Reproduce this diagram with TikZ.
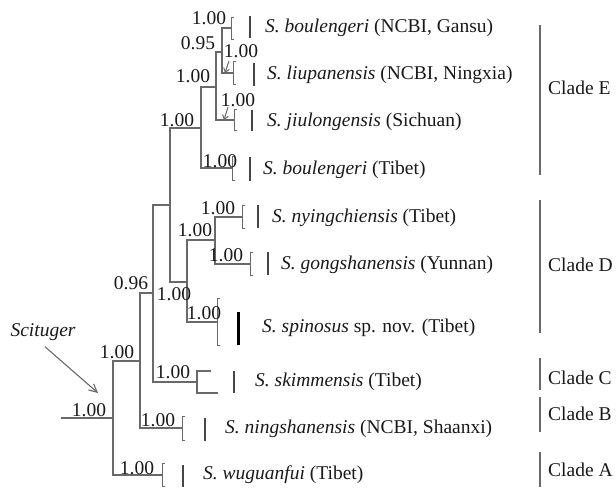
\documentclass[tikz,border=0pt]{standalone}
\usepackage{fontspec}
\setmainfont{Liberation Serif}
\usetikzlibrary{arrows.meta}
\definecolor{treegray}{RGB}{105,105,105}
\definecolor{bargray}{RGB}{70,70,70}
\definecolor{txt}{RGB}{25,25,25}
\begin{document}
\begin{tikzpicture}[x=1pt,y=-1pt,
  br/.style={draw=treegray,line width=1.1pt},
  tipbar/.style={draw=bargray,line width=1.4pt},
  thickbar/.style={draw=black,line width=3pt},
  cladebar/.style={draw=treegray,line width=1.3pt},
  sup/.style={inner sep=0pt,text=txt,font=\fontsize{19.5}{22}\selectfont},
  taxon/.style={inner sep=0pt,anchor=west,text=txt,font=\fontsize{19.5}{22}\selectfont},
  ptr/.style={draw=treegray,line width=1pt,-{Straight Barb[length=4pt,width=6pt]}}]
\useasboundingbox (0,0) rectangle (616,491);
% internal nodes and tips
\coordinate (r0) at (61,418);
\coordinate (n1) at (113,418);
\coordinate (n2) at (140,361);
\coordinate (tW) at (162,475);
\coordinate (n3) at (153,293);
\coordinate (tN) at (182,428);
\coordinate (n4) at (170,205);
\coordinate (tSk) at (197,382);
\coordinate (tSk1) at (211,371);
\coordinate (tSk2) at (218,393);
\coordinate (nE) at (201,128);
\coordinate (nD) at (187,282);
\coordinate (n5) at (216,87);
\coordinate (tBT) at (232,168);
\coordinate (n6) at (222,52);
\coordinate (tJ) at (234,120);
\coordinate (tG) at (231,28);
\coordinate (tL) at (233,73);
\coordinate (n7) at (215,240);
\coordinate (tSp) at (217,322);
\coordinate (tNy) at (242,217);
\coordinate (tGo) at (250,264);
% branches
\draw[br] (r0) -- (n1);
\draw[br] (n1) |- (n2);
\draw[br] (n1) |- (tW);
\draw[br] (n2) |- (n3);
\draw[br] (n2) |- (tN);
\draw[br] (n3) |- (n4);
\draw[br] (n3) |- (tSk);
\draw[br] (tSk) |- (tSk1);
\draw[br] (tSk) |- (tSk2);
\draw[br] (n4) |- (nE);
\draw[br] (n4) |- (nD);
\draw[br] (nE) |- (n5);
\draw[br] (nE) |- (tBT);
\draw[br] (n5) |- (n6);
\draw[br] (n5) |- (tJ);
\draw[br] (n6) |- (tG);
\draw[br] (n6) |- (tL);
\draw[br] (nD) |- (n7);
\draw[br] (nD) |- (tSp);
\draw[br] (n7) |- (tNy);
\draw[br] (n7) |- (tGo);
% tip brackets
\foreach \tp/\h in {tW/11.5,tN/12,tBT/12,tJ/10.5,tG/11,tL/11.5,tNy/11.5,tGo/11.5,tSp/23.5}{
  \draw[br,line width=1pt] ([shift={(2.5,-\h)}]\tp) -- ([shift={(0,-\h)}]\tp) -- ([shift={(0,\h)}]\tp) -- ([shift={(2.5,\h)}]\tp);
}
% tip bars
\draw[tipbar] (250,16) -- (250,38);
\draw[tipbar] (254,63) -- (254,86);
\draw[tipbar] (252,110) -- (252,131);
\draw[tipbar] (250,157) -- (250,181);
\draw[tipbar] (258,205) -- (258,228);
\draw[tipbar] (268,252) -- (268,275);
\draw[thickbar] (238,312) -- (238,345);
\draw[tipbar] (234,371) -- (234,393);
\draw[tipbar] (205,418) -- (205,441);
\draw[tipbar] (183,465) -- (183,487);
% taxa
\node[taxon] (x1) at (265,28) {\textit{S. boulengeri} (NCBI, Gansu)};
\node[taxon] (x2) at (267,75) {\textit{S. liupanensis} (NCBI, Ningxia)};
\node[taxon] (x3) at (267,122) {\textit{S. jiulongensis} (Sichuan)};
\node[taxon] (x4) at (263,170) {\textit{S. boulengeri} (Tibet)};
\node[taxon] (x5) at (272,218) {\textit{S. nyingchiensis} (Tibet)};
\node[taxon] (x6) at (281,265) {\textit{S. gongshanensis} (Yunnan)};
\node[taxon] (x7) at (262,328) {\textit{S. spinosus} sp. nov. (Tibet)};
\node[taxon] (x8) at (255,382) {\textit{S. skimmensis} (Tibet)};
\node[taxon] (x9) at (225,429) {\textit{S. ningshanensis} (NCBI, Shaanxi)};
\node[taxon] (x10) at (203,475) {\textit{S. wuguanfui} (Tibet)};
% support values
\node[sup] (s1) at (89,410) {1.00};
\node[sup] (s2) at (117,352) {1.00};
\node[sup] (s3) at (137,468) {1.00};
\node[sup] (s4) at (158,420) {1.00};
\node[sup] (s5) at (131,283) {0.96};
\node[sup] (s6) at (173,372) {1.00};
\node[sup] (s7) at (177,120) {1.00};
\node[sup] (s8) at (220,161) {1.00};
\node[sup] (s9) at (193,76) {1.00};
\node[sup] (s10) at (198,43) {0.95};
\node[sup] (s11) at (209,18) {1.00};
\node[sup] (s12) at (241,51) {1.00};
\node[sup] (s13) at (238,100) {1.00};
\node[sup] (s14) at (174,294) {1.00};
\node[sup] (s15) at (195,230) {1.00};
\node[sup] (s16) at (218,208) {1.00};
\node[sup] (s17) at (226,255) {1.00};
\node[sup] (s18) at (204,313) {1.00};
% small pointers
\coordinate (p1a) at (229,61);
\coordinate (p1b) at (225,73);
\coordinate (p2a) at (228,107);
\coordinate (p2b) at (224,120);
\draw[ptr] (p1a) -- (p1b);
\draw[ptr] (p2a) -- (p2b);
% Scituger
\node[sup,font=\fontsize{19.5}{22}\selectfont\itshape] (sci) at (43,332) {Scituger};
\coordinate (sciTip) at (98,393);
\draw[draw=treegray,line width=1.1pt,-{Straight Barb[length=8pt,width=8pt]}] (sci.south) ++(2,6) -- (sciTip);
% clades
\draw[cladebar] (540,25) -- (540,175);
\draw[cladebar] (540,200) -- (540,333);
\draw[cladebar] (540,358) -- (540,390);
\draw[cladebar] (540,397) -- (540,432);
\draw[cladebar] (540,452) -- (540,487);
\node[taxon] (cE) at (548,88) {Clade E};
\node[taxon] (cD) at (548,265) {Clade D};
\node[taxon] (cC) at (548,378) {Clade C};
\node[taxon] (cB) at (548,414) {Clade B};
\node[taxon] (cA) at (548,470) {Clade A};
\end{tikzpicture}
\end{document}
